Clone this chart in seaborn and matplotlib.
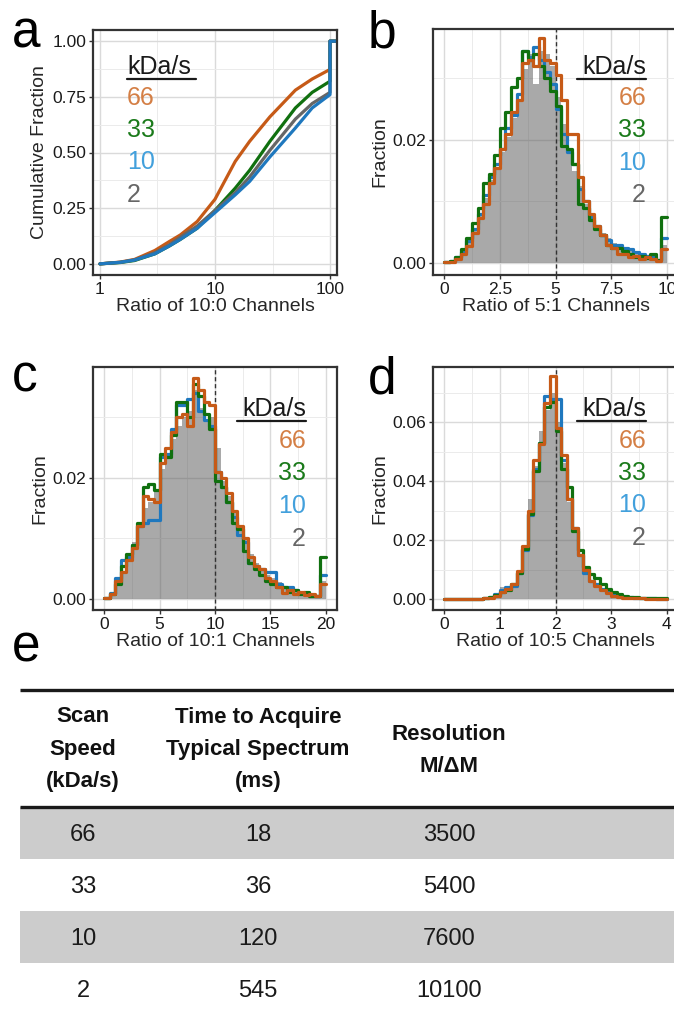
import matplotlib.pyplot as plt
import matplotlib.ticker as mtick
from matplotlib.lines import Line2D
from matplotlib.patches import Rectangle
import numpy as np
import pandas as pd
import seaborn as sns

sns.set_theme(style="whitegrid")
plt.rcParams["font.family"] = ["Liberation Sans", "DejaVu Sans"]

W, H = 674, 1010

# ---- data -------------------------------------------------------------
speeds = ["66", "33", "10", "2"]
line_colors = {"66": "#C65A17", "33": "#10700F", "10": "#1F78BE", "2": "#666666"}
text_colors = {"66": "#D47F45", "33": "#1A7A1A", "10": "#42A0DC", "2": "#666666"}

# panel a: cumulative fraction vs ratio of 10:0 channels
cdf_x = [1, 1.5, 2, 3, 4, 5, 7, 10, 15, 20, 30, 50, 70, 100, 100, 130]
cdf_66 = [0, 0.008, 0.02, 0.06, 0.10, 0.13, 0.19, 0.29, 0.46, 0.55, 0.66, 0.78, 0.83, 0.873, 1, 1]
cdf_33 = [0, 0.006, 0.015, 0.045, 0.08, 0.11, 0.16, 0.24, 0.34, 0.42, 0.55, 0.70, 0.77, 0.82, 1, 1]
cdf_10 = [0, 0.007, 0.017, 0.045, 0.08, 0.11, 0.16, 0.23, 0.31, 0.37, 0.48, 0.61, 0.70, 0.76, 1, 1]
cdf_2 = [0, 0.007, 0.018, 0.05, 0.085, 0.12, 0.17, 0.24, 0.32, 0.39, 0.51, 0.65, 0.72, 0.77, 1, 1]

# panel b: ratio of 5:1 channels, 40 bins over 0-10
b_2 = [0.0001, 0.0003, 0.0008, 0.0018, 0.0035, 0.0055, 0.0080, 0.0105, 0.0135, 0.0155,
       0.0180, 0.0205, 0.0235, 0.0265, 0.0315, 0.0340, 0.0290, 0.0345, 0.0340, 0.0320,
       0.0270, 0.0225, 0.0185, 0.0150, 0.0125, 0.0095, 0.0075, 0.0060, 0.0048, 0.0040,
       0.0032, 0.0028, 0.0024, 0.0021, 0.0018, 0.0015, 0.0012, 0.0009, 0.0007, 0.0030]
b_10 = [0.0001, 0.0004, 0.0010, 0.0018, 0.0035, 0.0055, 0.0080, 0.0110, 0.0140, 0.0160,
        0.0185, 0.0220, 0.0240, 0.0275, 0.0345, 0.0335, 0.0350, 0.0330, 0.0310, 0.0290,
        0.0250, 0.0210, 0.0180, 0.0160, 0.0120, 0.0100, 0.0075, 0.0060, 0.0045, 0.0038,
        0.0030, 0.0030, 0.0025, 0.0022, 0.0018, 0.0015, 0.0012, 0.0010, 0.0005, 0.0040]
b_33 = [0.0001, 0.0003, 0.0010, 0.0022, 0.0040, 0.0065, 0.0090, 0.0130, 0.0145, 0.0175,
        0.0220, 0.0245, 0.0285, 0.0300, 0.0345, 0.0330, 0.0340, 0.0320, 0.0300, 0.0280,
        0.0255, 0.0190, 0.0185, 0.0160, 0.0095, 0.0090, 0.0070, 0.0055, 0.0045, 0.0030,
        0.0025, 0.0025, 0.0020, 0.0015, 0.0010, 0.0012, 0.0008, 0.0015, 0.0005, 0.0075]
b_66 = [0.0001, 0.0002, 0.0006, 0.0015, 0.0028, 0.0048, 0.0073, 0.0095, 0.0130, 0.0155,
        0.0185, 0.0210, 0.0245, 0.0265, 0.0325, 0.0330, 0.0320, 0.0365, 0.0330, 0.0325,
        0.0305, 0.0265, 0.0210, 0.0210, 0.0140, 0.0100, 0.0080, 0.0060, 0.0045, 0.0030,
        0.0025, 0.0015, 0.0015, 0.0010, 0.0012, 0.0006, 0.0010, 0.0006, 0.0003, 0.0022]

# panel c: ratio of 10:1 channels, 40 bins over 0-20
c_2 = [0.0001, 0.0006, 0.0025, 0.0045, 0.0070, 0.0095, 0.0120, 0.0150, 0.0160, 0.0180,
       0.0215, 0.0240, 0.0265, 0.0285, 0.0300, 0.0310, 0.0345, 0.0315, 0.0295, 0.0300,
       0.0250, 0.0195, 0.0170, 0.0145, 0.0120, 0.0100, 0.0075, 0.0060, 0.0050, 0.0040,
       0.0035, 0.0028, 0.0022, 0.0018, 0.0015, 0.0012, 0.0010, 0.0008, 0.0006, 0.0030]
c_10 = [0.0001, 0.0010, 0.0035, 0.0065, 0.0070, 0.0090, 0.0120, 0.0125, 0.0130, 0.0130,
        0.0235, 0.0240, 0.0280, 0.0320, 0.0320, 0.0330, 0.0340, 0.0310, 0.0295, 0.0285,
        0.0210, 0.0185, 0.0160, 0.0135, 0.0105, 0.0095, 0.0060, 0.0055, 0.0050, 0.0045,
        0.0045, 0.0025, 0.0020, 0.0020, 0.0015, 0.0010, 0.0008, 0.0006, 0.0005, 0.0040]
c_33 = [0.0001, 0.0008, 0.0025, 0.0055, 0.0075, 0.0090, 0.0125, 0.0185, 0.0190, 0.0180,
        0.0240, 0.0235, 0.0270, 0.0325, 0.0325, 0.0300, 0.0355, 0.0335, 0.0305, 0.0280,
        0.0195, 0.0185, 0.0160, 0.0125, 0.0115, 0.0080, 0.0060, 0.0050, 0.0040, 0.0030,
        0.0025, 0.0020, 0.0020, 0.0012, 0.0015, 0.0008, 0.0012, 0.0005, 0.0005, 0.0070]
c_66 = [0.0002, 0.0008, 0.0030, 0.0045, 0.0065, 0.0085, 0.0120, 0.0170, 0.0165, 0.0160,
        0.0225, 0.0250, 0.0275, 0.0300, 0.0305, 0.0285, 0.0365, 0.0345, 0.0325, 0.0320,
        0.0210, 0.0200, 0.0175, 0.0145, 0.0120, 0.0100, 0.0070, 0.0055, 0.0050, 0.0035,
        0.0030, 0.0020, 0.0010, 0.0015, 0.0008, 0.0012, 0.0007, 0.0008, 0.0005, 0.0025]

# panel d: ratio of 10:5 channels, 40 bins over 0-4
d_2 = [0, 0, 0, 0, 0, 0, 0.0002, 0.0004, 0.0010, 0.0020,
       0.0040, 0.0040, 0.0050, 0.0090, 0.0175, 0.0340, 0.0450, 0.0570, 0.0640, 0.0700,
       0.0600, 0.0460, 0.0330, 0.0240, 0.0150, 0.0095, 0.0065, 0.0050, 0.0035, 0.0025,
       0.0018, 0.0012, 0.0008, 0.0006, 0.0004, 0.0003, 0.0002, 0.0002, 0.0001, 0.0001]
d_10 = [0, 0, 0, 0, 0, 0, 0.0001, 0.0003, 0.0008, 0.0018,
        0.0030, 0.0040, 0.0045, 0.0090, 0.0165, 0.0285, 0.0440, 0.0530, 0.0690, 0.0680,
        0.0680, 0.0470, 0.0340, 0.0240, 0.0150, 0.0090, 0.0060, 0.0050, 0.0035, 0.0025,
        0.0018, 0.0012, 0.0008, 0.0006, 0.0004, 0.0003, 0.0002, 0.0002, 0.0001, 0.0001]
d_33 = [0, 0, 0, 0, 0, 0, 0.0001, 0.0003, 0.0006, 0.0015,
        0.0025, 0.0030, 0.0050, 0.0090, 0.0170, 0.0290, 0.0435, 0.0530, 0.0650, 0.0670,
        0.0570, 0.0440, 0.0380, 0.0230, 0.0165, 0.0110, 0.0085, 0.0070, 0.0050, 0.0035,
        0.0025, 0.0018, 0.0012, 0.0008, 0.0006, 0.0005, 0.0004, 0.0004, 0.0003, 0.0003]
d_66 = [0, 0, 0, 0, 0, 0, 0.0001, 0.0002, 0.0005, 0.0012,
        0.0025, 0.0035, 0.0050, 0.0095, 0.0180, 0.0300, 0.0470, 0.0525, 0.0665, 0.0755,
        0.0580, 0.0490, 0.0340, 0.0240, 0.0150, 0.0100, 0.0060, 0.0045, 0.0030, 0.0020,
        0.0012, 0.0008, 0.0005, 0.0004, 0.0002, 0.0002, 0.0001, 0.0001, 0.0001, 0.0001]

# panel e: table
table_header = [["Scan", "Speed", "(kDa/s)"],
                ["Time to Acquire", "Typical Spectrum", "(ms)"],
                ["Resolution", "M/\u0394M"]]
scan_speed = ["66", "33", "10", "2"]
acquire_ms = ["18", "36", "120", "545"]
resolution = ["3500", "5400", "7600", "10100"]

# ---- layout helpers ---------------------------------------------------
fig = plt.figure(figsize=(W / 100, H / 100), dpi=100)
TITLE_FS = 14


def px_axes(left, top, right, bottom):
    return fig.add_axes([left / W, 1 - bottom / H, (right - left) / W, (bottom - top) / H])


def style_axes(ax):
    ax.set_facecolor("white")
    ax.set_axisbelow(True)
    ax.grid(which="major", color="#DADADA", lw=1.0)
    ax.grid(which="minor", color="#EBEBEB", lw=0.7)
    for s in ax.spines.values():
        s.set_visible(True)
        s.set_color("#333333")
        s.set_linewidth(1.6)
    ax.tick_params(which="major", length=3, width=1, color="#333333", labelsize=12.5,
                   labelcolor="#1A1A1A", pad=2, bottom=True, left=True)
    ax.tick_params(which="minor", length=0)


def legend(x, y_list, anchor):
    fs = 18
    fig.text(x / W, 1 - y_list[0] / H, "kDa/s", fontsize=fs, ha=anchor, va="center",
             color="#1A1A1A")
    for sp, y in zip(speeds, y_list[1:]):
        fig.text(x / W, 1 - y / H, sp, fontsize=fs, ha=anchor, va="center",
                 color=text_colors[sp])
    ul_w = 69
    x0 = x if anchor == "left" else x - ul_w
    fig.add_artist(Line2D([x0 / W, (x0 + ul_w) / W], [1 - (y_list[0] + 12) / H] * 2,
                          color="#1A1A1A", lw=1.6))


def hist_panel(ax, lo, hi, series, pad, vline):
    edges = np.linspace(lo, hi, 41)
    df = pd.DataFrame({"x": (edges[:-1] + edges[1:]) / 2})
    for sp in speeds:
        df[sp] = series[sp]
    sns.histplot(data=df, x="x", weights="2", bins=40, binrange=(lo, hi), element="bars",
                 color="#555555", alpha=0.5, linewidth=0, ax=ax)
    ax.axvline(vline, color="#333333", lw=1.0, ls=(0, (3, 2)), zorder=3)
    for sp in ["10", "33", "66"]:
        sns.histplot(data=df, x="x", weights=sp, bins=40, binrange=(lo, hi),
                     element="step", fill=False, color=line_colors[sp], linewidth=2.3,
                     ax=ax, zorder=4)
    ax.set_xlim(lo - pad, hi + pad)
    ax.set_ylabel("Fraction", fontsize=TITLE_FS, labelpad=3)
    ax.yaxis.set_major_formatter(mtick.FormatStrFormatter("%.2f"))
    ax.xaxis.set_major_formatter(mtick.FuncFormatter(lambda v, p: f"{v:g}"))


# ---- panel a ----------------------------------------------------------
ax_a = px_axes(93, 30, 337, 275)
for sp, vals in [("66", cdf_66), ("33", cdf_33), ("2", cdf_2), ("10", cdf_10)]:
    sns.lineplot(x=cdf_x, y=vals, estimator=None, sort=False, color=line_colors[sp],
                 lw=2.3, ax=ax_a)
ax_a.set_xscale("log")
ax_a.set_xlim(0.87, 115)
ax_a.set_ylim(-0.05, 1.05)
ax_a.xaxis.set_major_locator(mtick.FixedLocator([1, 10, 100]))
ax_a.xaxis.set_minor_locator(mtick.FixedLocator([10 ** 0.5, 10 ** 1.5]))
ax_a.xaxis.set_major_formatter(mtick.FuncFormatter(lambda v, p: f"{v:g}"))
ax_a.yaxis.set_major_locator(mtick.MultipleLocator(0.25))
ax_a.yaxis.set_minor_locator(mtick.MultipleLocator(0.125))
ax_a.yaxis.set_major_formatter(mtick.FormatStrFormatter("%.2f"))
ax_a.set_xlabel("Ratio of 10:0 Channels", fontsize=TITLE_FS, labelpad=1)
ax_a.set_ylabel("Cumulative Fraction", fontsize=TITLE_FS, labelpad=3)
style_axes(ax_a)
legend(127, [67, 98, 130, 162, 195], "left")

# ---- panel b ----------------------------------------------------------
ax_b = px_axes(433, 29, 678, 275)
hist_panel(ax_b, 0, 10, {"2": b_2, "10": b_10, "33": b_33, "66": b_66}, 0.5, 5)
ax_b.set_ylim(-0.00195, 0.038)
ax_b.xaxis.set_major_locator(mtick.MultipleLocator(2.5))
ax_b.xaxis.set_minor_locator(mtick.MultipleLocator(1.25))
ax_b.yaxis.set_major_locator(mtick.MultipleLocator(0.02))
ax_b.yaxis.set_minor_locator(mtick.MultipleLocator(0.01))
ax_b.set_xlabel("Ratio of 5:1 Channels", fontsize=TITLE_FS, labelpad=1)
style_axes(ax_b)
legend(646, [67, 98, 130, 163, 195], "right")

# ---- panel c ----------------------------------------------------------
ax_c = px_axes(93, 367, 337, 610)
hist_panel(ax_c, 0, 20, {"2": c_2, "10": c_10, "33": c_33, "66": c_66}, 1.0, 10)
ax_c.set_ylim(-0.0018, 0.0383)
ax_c.xaxis.set_major_locator(mtick.MultipleLocator(5))
ax_c.xaxis.set_minor_locator(mtick.MultipleLocator(2.5))
ax_c.yaxis.set_major_locator(mtick.MultipleLocator(0.02))
ax_c.yaxis.set_minor_locator(mtick.MultipleLocator(0.01))
ax_c.set_xlabel("Ratio of 10:1 Channels", fontsize=TITLE_FS, labelpad=1)
style_axes(ax_c)
legend(306, [409, 441, 473, 506, 539], "right")

# ---- panel d ----------------------------------------------------------
ax_d = px_axes(433, 367, 678, 610)
hist_panel(ax_d, 0, 4, {"2": d_2, "10": d_10, "33": d_33, "66": d_66}, 0.2, 2)
ax_d.set_ylim(-0.0037, 0.0787)
ax_d.xaxis.set_major_locator(mtick.MultipleLocator(1))
ax_d.xaxis.set_minor_locator(mtick.MultipleLocator(0.5))
ax_d.yaxis.set_major_locator(mtick.MultipleLocator(0.02))
ax_d.yaxis.set_minor_locator(mtick.MultipleLocator(0.01))
ax_d.set_xlabel("Ratio of 10:5 Channels", fontsize=TITLE_FS, labelpad=1)
style_axes(ax_d)
legend(646, [409, 441, 473, 505, 538], "right")

# ---- panel letters ----------------------------------------------------
for letter, x, y in [("a", 12, 48), ("b", 368, 48), ("c", 12, 392), ("d", 368, 393),
                     ("e", 12, 662)]:
    fig.text(x / W, 1 - y / H, letter, fontsize=37, ha="left", va="baseline",
             color="black")

# ---- panel e: table ---------------------------------------------------
tax = fig.add_axes([0, 0, 1, 1], zorder=-1)
tax.set_xlim(0, W)
tax.set_ylim(H, 0)
tax.axis("off")
tax.patch.set_alpha(0)

col_x = [83, 258, 449]
row_top, row_h = 807, 52
for i in range(len(scan_speed)):
    y0 = row_top + i * row_h
    if i % 2 == 0:
        tax.add_patch(Rectangle((20, y0), W - 20, row_h, color="#CCCCCC", lw=0))
    yc = y0 + row_h / 2 + 2
    for cx, val in zip(col_x, [scan_speed[i], acquire_ms[i], resolution[i]]):
        tax.text(cx, yc, val, fontsize=17, ha="center", va="center", color="#1A1A1A")

tax.hlines([690, row_top], 20, W, color="#1A1A1A", lw=2.4)
header_y = [[717, 749, 782], [717, 749, 782], [735, 766]]
for cx, lines, ys in zip(col_x, table_header, header_y):
    for txt, y in zip(lines, ys):
        tax.text(cx, y, txt, fontsize=16, ha="center", va="center",
                 fontweight="bold", color="#111111")

fig.savefig("out.png", dpi=100)
